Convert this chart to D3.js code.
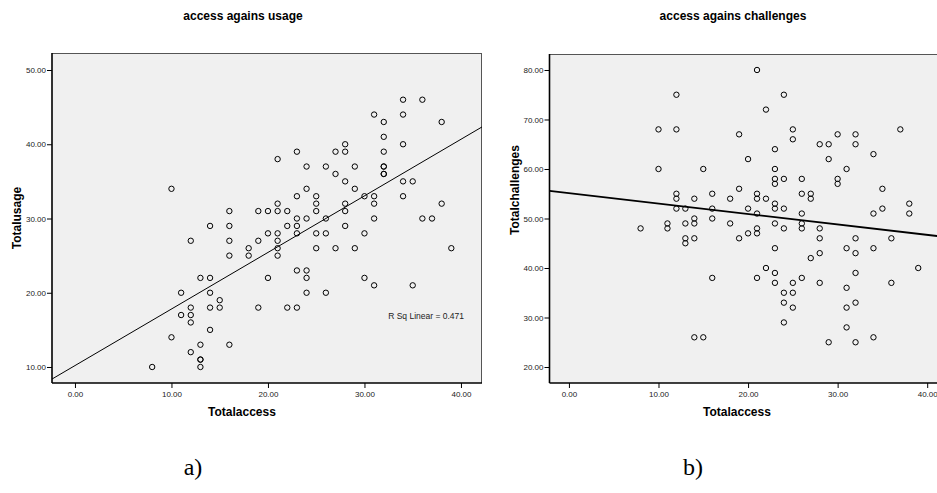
<!DOCTYPE html>
<html>
<head>
    <title>access agains usage / challenges</title>
    <script src="https://d3js.org/d3.v7.min.js"></script>
    <style>
        body { margin: 0; background: #fff; }
        svg { display: block; font-family: "Liberation Sans", Arial, sans-serif; }
        .plotbg { fill: #f0f0f0; }
        .frame { stroke: #555; stroke-width: 1px; }
        .axisline { stroke: #000; stroke-width: 1.6px; }
        .tick text { font-size: 8px; fill: #222; }
        .tick line { stroke: #000; }
        .dot { fill: none; stroke: #000; stroke-width: 1px; }
        .fit { stroke: #000; fill: none; }
        .title { font-size: 12px; font-weight: bold; }
        .axtitle { font-size: 12px; font-weight: bold; }
        .rsq { font-size: 8.5px; fill: #222; }
        .panel-tag { font-family: "Liberation Serif", "Times New Roman", serif; font-size: 24px; }
    </style>
</head>
<body>
    <script>
        // a) Totalaccess vs Totalusage
        var accessA = [10,16,14,16,12,16,16,18,18,13,14,11,14,15,12,14,15,11,12,12,14,10,13,16,12,13,13,13,8,
            34,36,31,34,32,38,32,34,28,28,27,23,32,21,24,26,29,32,32,32,32,27,28,34,35,29,24,23,25,30,31,34,
            25,28,31,38,21,19,20,21,22,25,28,23,24,26,31,36,37,
            22,23,28,20,21,23,25,26,30,19,21,21,25,27,29,39,21,23,24,20,24,30,31,35,24,26,19,22,23];
        var usageA = [34,31,29,29,27,27,25,26,25,22,22,20,20,19,18,18,18,17,17,16,15,14,13,13,12,11,11,10,10,
            46,46,44,44,43,43,41,40,40,39,39,39,39,38,37,37,37,37,37,36,36,36,35,35,35,34,34,33,33,33,33,33,
            32,32,32,32,32,31,31,31,31,31,31,30,30,30,30,30,30,
            29,29,29,28,28,28,28,28,28,27,27,26,26,26,26,26,25,23,23,22,22,22,21,21,20,20,18,18,18];
        var fitA = [10.19, 0.762];   // intercept, slope
        var rsqA = "R Sq Linear = 0.471";

        // b) Totalaccess vs Totalchallenges
        var accessB = [12,10,12,10,15,12,12,14,16,12,13,16,14,16,8,11,11,13,13,13,14,14,16,14,15,
            21,24,22,19,25,25,37,30,32,23,28,29,32,34,20,29,23,31,23,23,24,26,30,30,19,18,21,21,22,26,27,27,35,
            20,23,23,24,21,26,34,35,38,38,
            18,21,21,20,19,23,24,26,26,28,28,32,36,23,31,32,34,28,27,22,39,21,23,26,32,23,25,28,36,31,24,25,24,
            25,31,32,24,31,29,32,34];
        var challengesB = [75,68,68,60,60,55,54,54,55,52,52,52,50,50,48,49,48,49,46,45,49,46,38,26,26,
            80,75,72,67,68,66,68,67,67,64,65,65,65,63,62,62,60,60,58,57,58,58,58,57,56,54,55,54,54,55,55,54,56,
            52,53,52,52,51,51,51,52,53,51,
            49,48,47,47,46,49,48,49,48,48,46,46,46,44,44,43,44,43,42,40,40,38,39,38,39,37,37,37,37,36,35,35,33,
            32,32,33,29,28,25,25,26];
        var fitB = [55.14, -0.211];

        var accessTicks = [0, 10, 20, 30, 40];
        var usageTicks = [10, 20, 30, 40, 50];
        var challengeTicks = [20, 30, 40, 50, 60, 70, 80];

        var width = 937, height = 493;
        var svg = d3.select("body").append("svg")
            .attr("width", width)
            .attr("height", height);

        var fmt = d3.format(".2f");

        function panel(cfg) {
            var g = svg.append("g");
            var x = d3.scaleLinear().domain(cfg.xDomain).range([cfg.left, cfg.right]);
            var y = d3.scaleLinear().domain(cfg.yDomain).range([cfg.bottom, cfg.top]);

            g.append("rect").attr("class", "plotbg")
                .attr("x", cfg.left).attr("y", cfg.top)
                .attr("width", cfg.right - cfg.left).attr("height", cfg.bottom - cfg.top);

            var clipId = "clip" + cfg.id;
            g.append("clipPath").attr("id", clipId).append("rect")
                .attr("x", cfg.left).attr("y", cfg.top)
                .attr("width", cfg.right - cfg.left).attr("height", cfg.bottom - cfg.top);

            // thin frame on top and right
            g.append("line").attr("class", "frame")
                .attr("x1", cfg.left).attr("x2", cfg.right).attr("y1", cfg.top + 0.5).attr("y2", cfg.top + 0.5);
            g.append("line").attr("class", "frame")
                .attr("x1", cfg.right - 0.5).attr("x2", cfg.right - 0.5).attr("y1", cfg.top).attr("y2", cfg.bottom);

            // fit line
            var xd = x.domain();
            g.append("line").attr("class", "fit")
                .attr("clip-path", "url(#" + clipId + ")")
                .attr("stroke-width", cfg.fitWidth)
                .attr("x1", x(xd[0])).attr("y1", y(cfg.fit[0] + cfg.fit[1] * xd[0]))
                .attr("x2", x(xd[1])).attr("y2", y(cfg.fit[0] + cfg.fit[1] * xd[1]));

            // points
            g.append("g").selectAll("circle")
                .data(cfg.xs.map(function(v, i) { return [v, cfg.ys[i]]; }))
                .enter().append("circle")
                .attr("class", "dot")
                .attr("r", 2.7)
                .attr("cx", function(d) { return x(d[0]); })
                .attr("cy", function(d) { return y(d[1]); });

            // axes
            g.append("g").attr("transform", "translate(0," + cfg.bottom + ")")
                .call(d3.axisBottom(x).tickValues(cfg.xTicks).tickFormat(fmt).tickSize(5).tickSizeOuter(0).tickPadding(3))
                .call(function(a) { a.select(".domain").remove(); });
            g.append("g").attr("transform", "translate(" + cfg.left + ",0)")
                .call(d3.axisLeft(y).tickValues(cfg.yTicks).tickFormat(fmt).tickSize(5).tickSizeOuter(0).tickPadding(1))
                .call(function(a) { a.select(".domain").remove(); });
            g.selectAll(".tick text").attr("font-family", null).attr("font-size", null);

            g.append("line").attr("class", "axisline")
                .attr("x1", cfg.left).attr("x2", cfg.right).attr("y1", cfg.bottom).attr("y2", cfg.bottom);
            g.append("line").attr("class", "axisline")
                .attr("x1", cfg.left).attr("x2", cfg.left).attr("y1", cfg.top).attr("y2", cfg.bottom);

            // texts
            g.append("text").attr("class", "title")
                .attr("x", cfg.titleX).attr("y", 20).attr("text-anchor", "middle").text(cfg.title);
            g.append("text").attr("class", "axtitle")
                .attr("x", cfg.xTitleX).attr("y", 416).attr("text-anchor", "middle").text(cfg.xTitle);
            g.append("text").attr("class", "axtitle")
                .attr("transform", "translate(" + cfg.yTitleX + "," + cfg.yTitleY + ") rotate(-90)")
                .attr("text-anchor", "middle").text(cfg.yTitle);
            g.append("text").attr("class", "panel-tag")
                .attr("x", cfg.tagX).attr("y", 475).attr("text-anchor", "middle").text(cfg.tag);
            return { g: g, x: x, y: y };
        }

        var pa = panel({
            id: "a", left: 52, right: 482, top: 53, bottom: 383,
            xDomain: [-2.38, 42.18], yDomain: [7.845, 52.29],
            xs: accessA, ys: usageA, fit: fitA, fitWidth: 1,
            xTicks: accessTicks, yTicks: usageTicks,
            title: "access agains usage", titleX: 243,
            xTitle: "Totalaccess", xTitleX: 242,
            yTitle: "Totalusage", yTitleX: 21, yTitleY: 218,
            tag: "a)", tagX: 193
        });
        pa.g.append("text").attr("class", "rsq")
            .attr("x", 464).attr("y", 319).attr("text-anchor", "end").text(rsqA);

        panel({
            id: "b", left: 549.5, right: 946, top: 54, bottom: 383,
            xDomain: [-2.17, 42.1], yDomain: [16.77, 83.23],
            xs: accessB, ys: challengesB, fit: fitB, fitWidth: 1.8,
            xTicks: accessTicks, yTicks: challengeTicks,
            title: "access agains challenges", titleX: 733,
            xTitle: "Totalaccess", xTitleX: 737,
            yTitle: "Totalchallenges", yTitleX: 519, yTitleY: 190,
            tag: "b)", tagX: 693
        });
    </script>
</body>
</html>
